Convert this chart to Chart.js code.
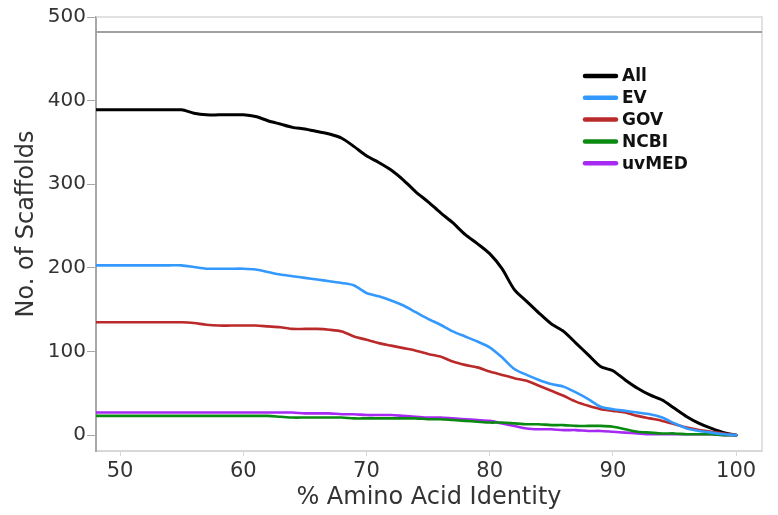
<!DOCTYPE html>
<html>
<head>
<meta charset="utf-8">
<title>Amino Acid Identity</title>
<script src="https://cdn.jsdelivr.net/npm/chart.js@4.4.1/dist/chart.umd.min.js"></script>
<style>
    html, body { margin: 0; padding: 0; background: #ffffff; }
    #wrap { width: 778px; height: 515px; }
</style>
</head>
<body>
<div id="wrap"><canvas id="chart" width="778" height="515"></canvas></div>
<script>
(function () {
    'use strict';

    // % amino acid identity (x)
    const IDENTITY = [48, 49, 50, 51, 52, 53, 54, 55, 56, 57, 58, 59, 60, 61, 62, 63, 64, 65, 66, 67,
                      68, 69, 70, 71, 72, 73, 74, 75, 76, 77, 78, 79, 80, 81, 82, 83, 84, 85, 86, 87,
                      88, 89, 90, 91, 92, 93, 94, 95, 96, 97, 98, 99, 100];

    const ALL   = [389, 389, 389, 389, 389, 389, 389, 389, 385, 383, 383, 383, 383, 381, 376, 372, 368, 366, 363, 360,
                   355, 345, 334, 326, 317, 305, 291, 279, 266, 254, 240, 229, 217, 199, 174, 160, 146, 133, 124, 110,
                   96, 82, 77, 66, 56, 48, 42, 32, 22, 14, 8, 3, 0];
    const EV    = [203, 203, 203, 203, 203, 203, 203, 203, 201, 199, 199, 199, 199, 198, 195, 192, 190, 188, 186, 184,
                   182, 179, 170, 166, 161, 155, 147, 139, 132, 124, 118, 112, 105, 93, 79, 72, 66, 61, 58, 51,
                   43, 34, 31, 29, 27, 25, 21, 14, 8, 5, 3, 1, 0];
    const GOV   = [135, 135, 135, 135, 135, 135, 135, 135, 134, 132, 131, 131, 131, 131, 130, 129, 127, 127, 127, 126,
                   124, 118, 114, 110, 107, 104, 101, 97, 94, 88, 84, 81, 76, 72, 68, 65, 59, 53, 47, 40,
                   35, 31, 29, 27, 23, 20, 17, 13, 9, 6, 4, 2, 0];
    const NCBI  = [23, 23, 23, 23, 23, 23, 23, 23, 23, 23, 23, 23, 23, 23, 23, 22, 21, 21, 21, 21,
                   21, 20, 20, 20, 20, 20, 20, 19, 19, 18, 17, 16, 15, 15, 14, 13, 13, 12, 12, 11,
                   11, 11, 10, 7, 4, 3, 2, 2, 1, 1, 1, 0, 0];
    const UVMED = [27, 27, 27, 27, 27, 27, 27, 27, 27, 27, 27, 27, 27, 27, 27, 27, 27, 26, 26, 26,
                   25, 25, 24, 24, 24, 23, 22, 21, 21, 20, 19, 18, 17, 14, 11, 8, 7, 7, 6, 6,
                   5, 5, 4, 3, 2, 1, 1, 1, 1, 1, 1, 0, 0];

    const X_TICKS = [50, 60, 70, 80, 90, 100];
    const Y_TICKS = [0, 100, 200, 300, 400, 500];
    const TOTAL_SCAFFOLDS = 482;

    const FONT      = "'DejaVu Sans', Verdana, sans-serif";
    const TEXT      = '#333333';
    const AXIS_DARK = '#a8a8a8';
    const AXIS_LITE = '#d8d8d8';

    const SERIES = [
        { label: 'All',   data: ALL,   color: '#000000', width: 3,   order: 4 },
        { label: 'EV',    data: EV,    color: '#3399ff', width: 2.6, order: 0 },
        { label: 'GOV',   data: GOV,   color: '#bb2a2a', width: 2.6, order: 3 },
        { label: 'NCBI',  data: NCBI,  color: '#0b8a12', width: 2.6, order: 1 },
        { label: 'uvMED', data: UVMED, color: '#a62af2', width: 2.6, order: 2 },
    ];

    // frame top/right + total line + inset legend + y title
    const framePlugin = {
        id: 'frame',
        beforeDatasetsDraw(chart) {
            const ctx = chart.ctx;
            const { left, right, top, bottom } = chart.chartArea;
            const yTotal = chart.scales.y.getPixelForValue(TOTAL_SCAFFOLDS);
            ctx.save();
            ctx.lineWidth = 1.5;
            ctx.strokeStyle = AXIS_LITE;
            ctx.beginPath();
            ctx.moveTo(left, top);
            ctx.lineTo(right, top);
            ctx.lineTo(right, bottom);
            ctx.stroke();
            ctx.lineWidth = 2;
            ctx.strokeStyle = '#a0a0a0';
            ctx.beginPath();
            ctx.moveTo(left, yTotal);
            ctx.lineTo(right, yTotal);
            ctx.stroke();
            ctx.restore();
        },
        afterDraw(chart) {
            const ctx = chart.ctx;
            ctx.save();
            ctx.font = 'bold 17px ' + FONT;
            ctx.textBaseline = 'middle';
            ctx.lineCap = 'round';
            SERIES.forEach((s, i) => {
                const y = 76 + i * 21.8;
                ctx.strokeStyle = s.color;
                ctx.lineWidth = 4.5;
                ctx.beginPath();
                ctx.moveTo(585, y);
                ctx.lineTo(616, y);
                ctx.stroke();
                ctx.fillStyle = '#111111';
                ctx.fillText(s.label, 622, y + 1);
            });

            // y title sits a little above the plot centre in the original
            ctx.translate(27, 224);
            ctx.rotate(-Math.PI / 2);
            ctx.font = '24px ' + FONT;
            ctx.fillStyle = TEXT;
            ctx.textAlign = 'center';
            ctx.fillText('No. of Scaffolds', 0, 0);
            ctx.restore();
        }
    };

    const datasets = SERIES.map(s => ({
        label: s.label,
        data: IDENTITY.map((x, i) => ({ x: x, y: s.data[i] })),
        borderColor: s.color,
        backgroundColor: s.color,
        borderWidth: s.width,
        pointRadius: 0,
        tension: 0.25,
        borderJoinStyle: 'round',
        borderCapStyle: 'round',
        fill: false,
        order: s.order,
    }));

    new Chart(document.getElementById('chart').getContext('2d'), {
        type: 'line',
        data: { datasets },
        plugins: [framePlugin],
        options: {
            responsive: false,
            animation: false,
            layout: { padding: { top: 17, right: 16, left: 0, bottom: 0 } },
            plugins: {
                legend: { display: false },
                tooltip: { enabled: false }
            },
            scales: {
                x: {
                    type: 'linear',
                    min: 48.05,
                    max: 102.1,
                    afterBuildTicks: (scale) => { scale.ticks = X_TICKS.map(v => ({ value: v })); },
                    afterFit: (scale) => { scale.height = 64; },
                    border: { color: AXIS_LITE, width: 2 },
                    grid: { drawOnChartArea: false, drawTicks: true, tickLength: 5, color: AXIS_LITE },
                    ticks: {
                        color: TEXT,
                        padding: 3,
                        maxRotation: 0,
                        autoSkip: false,
                        font: { family: FONT, size: 21 }
                    },
                    title: {
                        display: true,
                        text: '% Amino Acid Identity',
                        color: TEXT,
                        padding: { top: 0, bottom: 3 },
                        font: { family: FONT, size: 24 }
                    }
                },
                y: {
                    type: 'linear',
                    min: -19,
                    max: 500,
                    afterBuildTicks: (scale) => { scale.ticks = Y_TICKS.map(v => ({ value: v })); },
                    afterFit: (scale) => { scale.width = 96; },
                    border: { color: AXIS_DARK, width: 2 },
                    grid: { drawOnChartArea: false, drawTicks: true, tickLength: 9, color: AXIS_DARK },
                    ticks: {
                        color: TEXT,
                        padding: 1,
                        font: { family: FONT, size: 20 }
                    }
                }
            }
        }
    });
}());
</script>
</body>
</html>
